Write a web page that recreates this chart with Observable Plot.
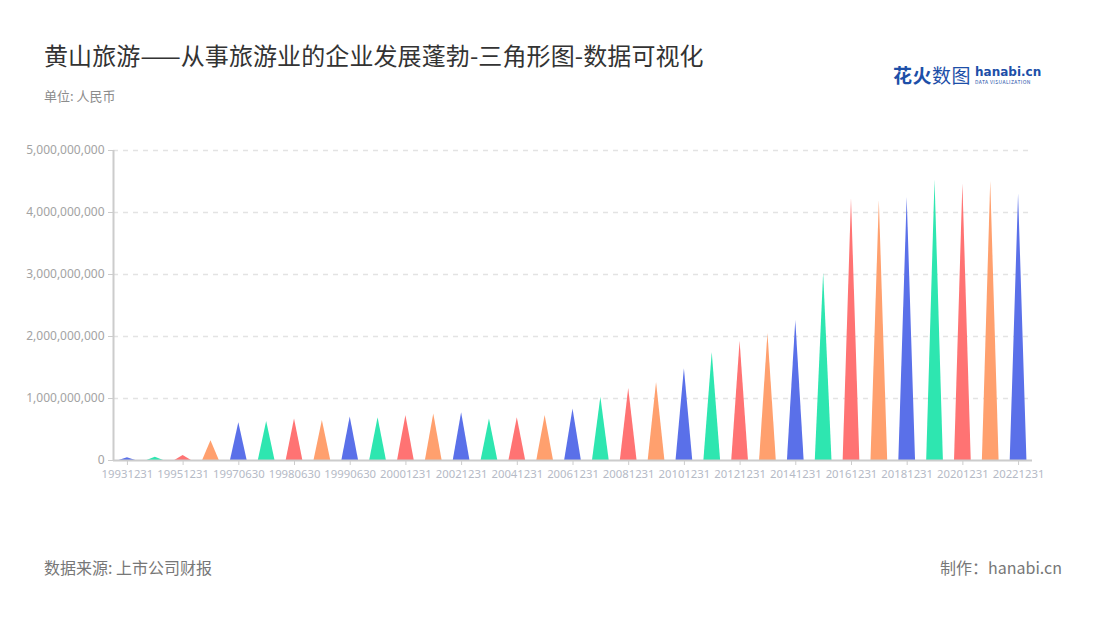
<!DOCTYPE html>
<html><head><meta charset="utf-8">
<script src="https://cdn.jsdelivr.net/npm/d3@7"></script>
<script src="https://cdn.jsdelivr.net/npm/@observablehq/plot@0.6"></script>
<style>
body{margin:0;background:#fff;font-family:"Noto Sans CJK SC","Noto Sans",sans-serif;}
#wrap{position:relative;width:1100px;height:620px;overflow:hidden;}
#title{position:absolute;left:44px;top:37px;font-size:24px;color:#333;letter-spacing:0.1px;}
#sub{position:absolute;left:44px;top:86px;font-size:13px;color:#8c8c8c;}
#logo{position:absolute;left:893px;top:61px;display:flex;align-items:center;}
#chart{position:absolute;left:0;top:120px;}
#src{position:absolute;left:44px;top:555px;font-size:16px;color:#777;}
#made{position:absolute;right:38px;top:555px;font-size:16px;color:#777;}
</style></head>
<body><div id="wrap">
<div id="title">黄山旅游——从事旅游业的企业发展蓬勃-三角形图-数据可视化</div>
<div id="sub">单位: 人民币</div>
<div id="logo"><span style="font-size:19px;font-weight:bold;color:#1d4fa8;letter-spacing:0.5px">花火<span style="font-weight:normal">数图</span></span>
<span style="margin-left:4px;display:inline-flex;flex-direction:column;line-height:1"><span style="font-size:12px;font-weight:bold;color:#1d4fa8;font-family:'DejaVu Sans'">hanabi.cn</span><span style="font-size:5px;color:#1d4fa8;letter-spacing:0.4px;margin-top:1px">DATA VISUALIZATION</span></span></div>
<div id="chart"></div>
<div id="src">数据来源: 上市公司财报</div>
<div id="made">制作：hanabi.cn</div>
</div>
<script>
const dates = ["19931231","19941231","19951231","19961231","19970630","19971231","19980630","19981231","19990630","19991231","20001231","20011231","20021231","20031231","20041231","20051231","20061231","20071231","20081231","20091231","20101231","20111231","20121231","20131231","20141231","20151231","20161231","20171231","20181231","20191231","20201231","20211231","20221231"];
const values = [44e6,53e6,80e6,320e6,610e6,630e6,670e6,645e6,700e6,690e6,726e6,750e6,770e6,670e6,690e6,726e6,830e6,1020e6,1160e6,1260e6,1480e6,1740e6,1920e6,2050e6,2260e6,3020e6,4220e6,4190e6,4240e6,4520e6,4460e6,4500e6,4300e6];
const palette = ["#5a70e9","#2ee6b0","#ff7373","#ffa06e"];
const yTicks = [0,1e9,2e9,3e9,4e9,5e9];

const half = 0.3;
const tri = [];
dates.forEach((d,i)=>{
  const c = palette[i % palette.length];
  tri.push({k:d, x:i-half, y:0, c});
  tri.push({k:d, x:i, y:values[i], c});
  tri.push({k:d, x:i+half, y:0, c});
});
const xTicks = d3.range(0,dates.length,2);

const chart = Plot.plot({
  width:1100, height:380,
  marginLeft:113, marginRight:68, marginTop:30, marginBottom:40,
  style:{fontFamily:"'Noto Sans', sans-serif", fontSize:"12px", color:"#a3a3a3", background:"transparent"},
  x:{domain:[-0.5, dates.length-0.5], label:null},
  y:{domain:[0,5e9], label:null},
  marks:[
    Plot.gridY(yTicks.slice(1),{stroke:"#e3e3e3", strokeOpacity:1, strokeDasharray:"5,5", strokeWidth:1.5}),
    Plot.areaY(tri,{x:"x", y:"y", z:"k", fill:"c", curve:"linear"}),
    Plot.axisY({ticks:yTicks, tickFormat:d3.format(","), stroke:"#cccccc", fill:"#a3a3a3", tickSize:5, label:null}),
    Plot.axisX({ticks:xTicks, tickFormat:i=>dates[i], stroke:"#cccccc", fill:"#b5bac6", tickSize:5, tickPadding:4, fontSize:11.3, label:null}),
    Plot.ruleX([-0.5],{stroke:"#cccccc", strokeWidth:2}),
    Plot.ruleY([0],{stroke:"#cccccc", strokeWidth:2})
  ]
});
document.getElementById("chart").appendChild(chart);
</script>
</body></html>
